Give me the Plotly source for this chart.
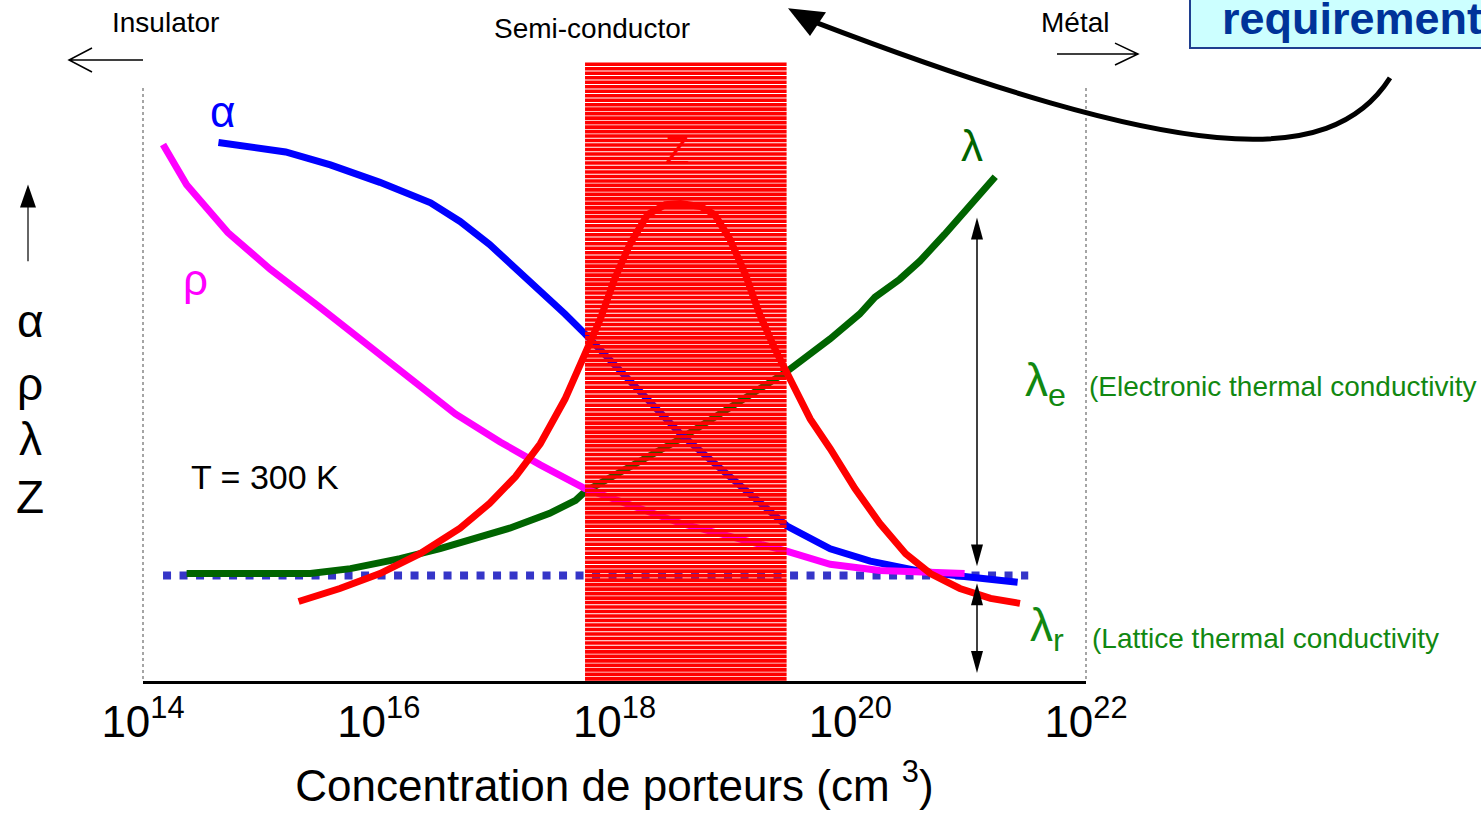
import numpy as np
import plotly.graph_objects as go

# ---------------- data (x as log10 of carrier concentration, y in arbitrary units 0-100) -------------
alpha_lg = [14.64, 15.21, 15.59, 16.01, 16.44, 16.69, 16.94, 17.20, 17.41, 17.58, 17.75, 18.56, 19.46, 19.83, 20.17, 20.59, 20.93, 21.42]
alpha_v  = [86.7, 85.2, 83.1, 80.3, 77.0, 74.0, 70.3, 65.8, 62.0, 59.1, 55.9, 39.8, 25.0, 21.3, 19.3, 17.7, 16.9, 15.9]

rho_lg = [14.17, 14.37, 14.72, 15.08, 15.50, 15.93, 16.27, 16.65, 17.03, 17.37, 17.75, 18.56, 19.46, 19.83, 20.25, 20.97]
rho_v  = [86.4, 79.9, 72.2, 66.3, 60.2, 53.8, 48.6, 43.0, 38.5, 34.8, 31.0, 25.4, 20.9, 18.8, 17.8, 17.3]

lam_lg = [14.37, 14.91, 15.42, 15.76, 16.18, 16.52, 16.86, 17.11, 17.45, 17.67, 17.75, 18.56, 19.46, 19.83, 20.08, 20.21, 20.42, 20.59, 20.80, 21.02, 21.23]
lam_v  = [17.3, 17.3, 17.3, 18.1, 19.7, 21.3, 23.3, 24.6, 27.0, 29.1, 30.5, 39.0, 49.8, 55.1, 59.1, 61.8, 64.7, 67.6, 71.9, 76.7, 81.2]

z_lg = [15.32, 15.67, 16.01, 16.35, 16.69, 16.94, 17.16, 17.37, 17.58, 17.75, 17.88, 18.00, 18.13, 18.28, 18.43, 18.56,
        18.73, 18.85, 18.98, 19.11, 19.23, 19.36, 19.49, 19.66, 19.83, 20.04, 20.25, 20.47, 20.68, 20.93, 21.19, 21.44]
z_v  = [12.8, 14.9, 17.3, 20.5, 24.6, 28.6, 32.9, 38.2, 45.4, 52.6, 58.3, 64.7, 70.3, 75.1, 76.7, 76.9,
        76.4, 75.1, 71.1, 65.5, 59.1, 53.5, 48.6, 42.2, 37.4, 31.0, 25.4, 20.5, 17.3, 14.9, 13.3, 12.5]

lattice_lg = [14.17, 21.51]
lattice_v = [17.0, 17.0]

semi_band_lg = [17.75, 19.46]   # semiconductor region

tick_lg = [14, 16, 18, 20, 22]
tick_text = ["10<sup>14</sup>", "10<sup>16</sup>", "10<sup>18</sup>", "10<sup>20</sup>", "10<sup>22</sup>"]

# ---------------- layout geometry (pixels) ----------------
W, H = 1481, 814
L, R, T, B = 143, 1086, 60, 683
FONT = "Liberation Sans, Arial, sans-serif"


def px(x):
    return (x - L) / (R - L)


def py(y):
    return (B - y) / (B - T)


def P(x, y):
    return f"{px(x):.5f},{py(y):.5f}"


def tolin(lgs):
    return [10.0 ** v for v in lgs]


fig = go.Figure()

fig.add_trace(go.Scatter(x=tolin(lattice_lg), y=lattice_v, mode="lines",
                         line=dict(color="#3535c8", width=8, dash="8px,8.5px")))
fig.add_trace(go.Scatter(x=tolin(lam_lg), y=lam_v, mode="lines",
                         line=dict(color="#006400", width=7)))
fig.add_trace(go.Scatter(x=tolin(alpha_lg), y=alpha_v, mode="lines",
                         line=dict(color="#0000ff", width=7)))
fig.add_trace(go.Scatter(x=tolin(rho_lg), y=rho_v, mode="lines",
                         line=dict(color="#ff00ff", width=7)))

# hatched semiconductor band (horizontal red stripes)
sx, sy = [], []
for yy in np.arange(0.35, 100.0, 4.5 / 6.23):
    sx += [10.0 ** semi_band_lg[0], 10.0 ** semi_band_lg[1], None]
    sy += [float(yy), float(yy), None]
fig.add_trace(go.Scatter(x=sx, y=sy, mode="lines", line=dict(color="#ff0000", width=3.6)))

fig.add_trace(go.Scatter(x=tolin(z_lg), y=z_v, mode="lines",
                         line=dict(color="#ff0000", width=7)))

shapes = []
# vertical dotted frame lines
for xx in (L, R):
    shapes.append(dict(type="line", xref="paper", yref="paper", x0=px(xx), x1=px(xx), y0=py(88), y1=py(B),
                       line=dict(color="#888888", width=1.5, dash="dot")))
# Insulator / Metal arrows (open chevrons)
shapes.append(dict(type="path", xref="paper", yref="paper",
                   path=f"M{P(143,60)} L{P(69,60)} M{P(92,48)} L{P(69,60)} L{P(92,72)}",
                   line=dict(color="black", width=1.5)))
shapes.append(dict(type="path", xref="paper", yref="paper",
                   path=f"M{P(1057,54)} L{P(1138,54)} M{P(1115,43)} L{P(1138,54)} L{P(1115,65)}",
                   line=dict(color="black", width=1.5)))
# left vertical arrow
shapes.append(dict(type="line", xref="paper", yref="paper", x0=px(28), x1=px(28), y0=py(262), y1=py(200),
                   line=dict(color="#333333", width=1.5)))
shapes.append(dict(type="path", xref="paper", yref="paper",
                   path=f"M{P(28,185)} L{P(20,208)} L{P(36,208)} Z", fillcolor="black", line=dict(width=0)))
# lambda_e / lambda_r double arrows
for (ytop, ybot) in ((218, 568), (585, 675)):
    shapes.append(dict(type="line", xref="paper", yref="paper", x0=px(977), x1=px(977),
                       y0=py(ytop + 10), y1=py(ybot - 10), line=dict(color="black", width=1.5)))
    shapes.append(dict(type="path", xref="paper", yref="paper",
                       path=f"M{P(977,ytop)} L{P(971,ytop+22)} L{P(983,ytop+22)} Z",
                       fillcolor="black", line=dict(width=0)))
    shapes.append(dict(type="path", xref="paper", yref="paper",
                       path=f"M{P(977,ybot)} L{P(971,ybot-22)} L{P(983,ybot-22)} Z",
                       fillcolor="black", line=dict(width=0)))
# requirements box
shapes.append(dict(type="rect", xref="paper", yref="paper", x0=px(1190), x1=px(1495), y0=py(48), y1=py(-10),
                   fillcolor="#ccffff", line=dict(color="#1f3f8f", width=2)))
# big curved black arrow
shapes.append(dict(type="path", xref="paper", yref="paper",
                   path=f"M{P(1390,78)} C{P(1330,172)} {P(1180,162)} {P(815,22)}",
                   line=dict(color="black", width=5)))
shapes.append(dict(type="path", xref="paper", yref="paper",
                   path=f"M{P(788,8)} L{P(826,12)} L{P(810,36)} Z", fillcolor="black", line=dict(width=0)))

ann = []


def text(x, y, s, size, color="black", xanchor="center", bold=False):
    ann.append(dict(xref="paper", yref="paper", x=px(x), y=py(y), text=(f"<b>{s}</b>" if bold else s),
                    showarrow=False, xanchor=xanchor, yanchor="middle",
                    font=dict(family=FONT, size=size, color=color)))


text(165, 22, "Insulator", 28)
text(592, 28, "Semi-conductor", 28)
text(1075, 22, "Métal", 28)
text(265, 478, "T = 300 K", 34)
for s, yy in (("α", 322), ("ρ", 385), ("λ", 440), ("Z", 498)):
    text(30, yy, s, 46)
text(222, 112, "α", 44, "#0000ff")
text(195, 280, "ρ", 44, "#ff00ff")
text(677, 150, "Z", 40, "#ff0000")
text(972, 146, "λ", 44, "#006400")
text(1045, 385, "λ<sub>e</sub>", 46, "#118811")
text(1047, 630, "λ<sub>r</sub>", 46, "#118811")
text(1087, 388, "(Electronic thermal conductivity", 28, "#118811", xanchor="left")
text(1090, 640, "(Lattice thermal conductivity", 28, "#118811", xanchor="left")
text(1220, 18, "requirements", 45, "#003399", xanchor="left", bold=True)

fig.update_layout(
    width=W, height=H, autosize=False,
    margin=dict(l=L, r=W - R, t=T, b=H - B, pad=0),
    paper_bgcolor="white", plot_bgcolor="white",
    showlegend=False, hovermode=False,
    shapes=shapes, annotations=ann,
    xaxis=dict(type="log", range=[14, 22], showgrid=False, zeroline=False,
               showline=True, linecolor="black", linewidth=2.5, ticks="",
               tickvals=[10.0 ** v for v in tick_lg], ticktext=tick_text,
               tickfont=dict(family=FONT, size=44, color="black"),
               title=dict(text="Concentration de porteurs (cm <sup>3</sup>)",
                          font=dict(family=FONT, size=44, color="black"), standoff=26)),
    yaxis=dict(range=[0, 100], visible=False),
)

fig.write_html("out.html", config={"displayModeBar": False},
               post_script="document.body.style.margin='0px';document.body.style.overflow='hidden';")
